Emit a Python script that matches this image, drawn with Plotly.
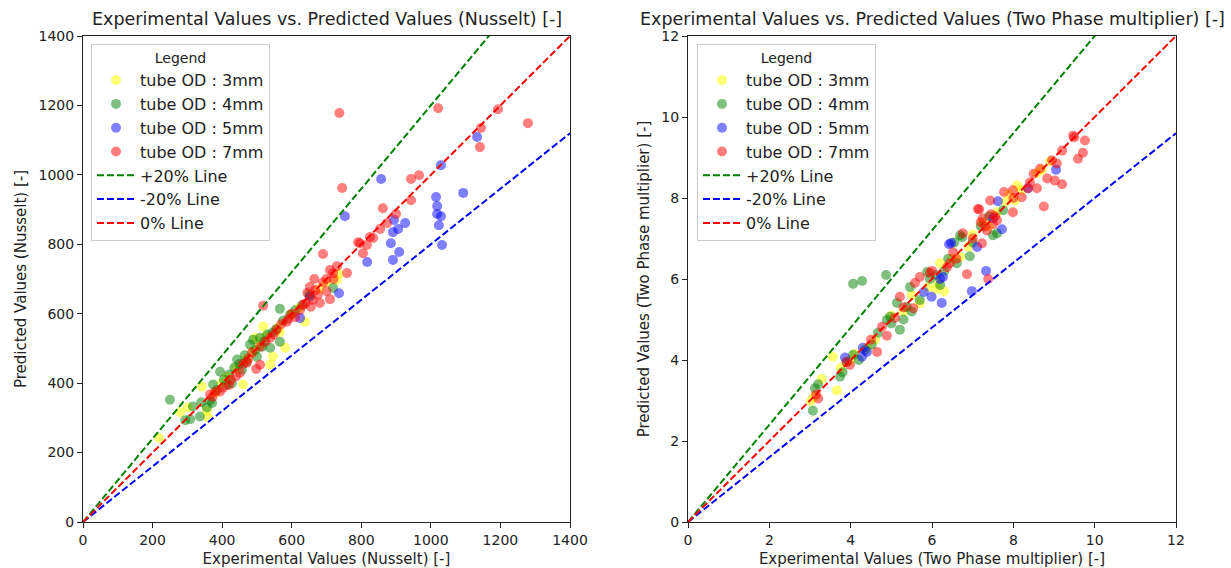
import plotly.graph_objects as go

# ---------------- Nusselt (left) ----------------
nu_3mm_x = [219, 279, 301, 342, 359, 356, 380, 398, 415, 440, 460, 470, 488, 495, 506, 518, 525, 538, 546, 560, 581, 566, 600, 620, 638, 655, 680, 700, 730, 735]
nu_3mm_y = [242, 316, 330, 390, 301, 320, 372, 400, 418, 442, 396, 470, 492, 531, 510, 563, 535, 453, 477, 560, 502, 547, 598, 615, 577, 650, 672, 690, 697, 715]

nu_4mm_x = [250, 294, 308, 316, 336, 340, 356, 365, 371, 374, 385, 394, 405, 412, 420, 428, 435, 443, 450, 457, 465, 470, 480, 489, 495, 500, 509, 515, 520, 530, 538, 545, 555, 566, 566, 575, 595, 610, 630, 650, 719]
nu_4mm_y = [352, 293, 296, 333, 304, 345, 330, 350, 343, 396, 380, 433, 410, 395, 425, 400, 445, 468, 455, 439, 480, 462, 511, 525, 495, 476, 531, 505, 520, 540, 502, 545, 555, 519, 614, 580, 597, 610, 625, 655, 674]

nu_5mm_x = [624, 652, 736, 753, 817, 857, 885, 891, 891, 894, 906, 909, 926, 1015, 1018, 1018, 1029, 1023, 1029, 1032, 1093, 1133]
nu_5mm_y = [588, 649, 659, 881, 749, 988, 803, 755, 835, 870, 844, 778, 861, 936, 910, 887, 881, 855, 1028, 798, 948, 1109]

nu_7mm_x = [737, 1021, 1193, 1279, 1144, 1141, 745, 943, 966, 943, 862, 900, 874, 854, 825, 834, 791, 816, 796, 805, 690, 759, 730, 710, 719, 710,
            633, 645, 652, 660, 668, 675, 681, 690, 700, 665, 624, 600, 586, 570, 557, 548, 538, 525, 518, 509, 509, 498, 486, 475, 471, 460, 451,
            440, 425, 403, 394, 380, 365, 372, 420, 590, 610, 640, 655, 700, 720]
nu_7mm_y = [1178, 1192, 1189, 1149, 1135, 1080, 962, 988, 999, 927, 904, 887, 861, 844, 821, 818, 806, 798, 803, 774, 772, 717, 737, 726, 717, 642,
            626, 660, 677, 640, 668, 655, 631, 690, 665, 700, 611, 600, 577, 570, 554, 540, 531, 520, 623, 505, 453, 441, 488, 470, 459, 455, 430,
            420, 410, 387, 376, 375, 367, 360, 395, 585, 590, 630, 620, 700, 700]

# ---------------- Two Phase multiplier (right) ----------------
tp_3mm_x = [3.02, 3.10, 3.29, 3.56, 3.66, 3.75, 4.00, 4.10, 4.40, 4.60, 5.00, 5.30, 5.50, 5.70, 5.90, 6.10, 6.15, 6.20, 6.30, 6.50, 6.70, 6.90, 7.00, 7.23, 7.40, 7.60, 7.80, 7.90, 8.04, 8.09, 8.20, 8.58, 8.70, 8.90]
tp_3mm_y = [2.98, 3.10, 3.54, 4.08, 3.25, 3.80, 4.00, 4.15, 4.30, 4.50, 5.10, 5.20, 5.60, 5.40, 5.80, 5.75, 5.90, 6.39, 5.70, 6.50, 6.55, 6.80, 7.10, 7.40, 7.30, 7.65, 7.90, 8.10, 7.94, 8.31, 8.20, 8.61, 8.70, 8.90]

tp_4mm_x = [3.07, 3.12, 3.20, 3.74, 3.80, 4.06, 4.28, 4.87, 4.06, 4.20, 4.52, 4.67, 4.89, 4.97, 5.14, 5.21, 5.30, 5.38, 5.46, 5.50, 5.70, 5.88, 5.95, 6.10, 6.20, 6.30, 6.40, 6.61, 6.74, 6.93, 7.00, 7.20, 7.50, 7.75, 7.40, 6.55, 5.00, 4.35, 3.90, 6.69, 7.60]
tp_4mm_y = [2.75, 3.30, 3.40, 3.59, 3.70, 5.88, 5.95, 6.10, 4.13, 4.00, 4.38, 4.67, 4.99, 5.07, 5.41, 4.75, 5.00, 5.31, 5.80, 5.20, 5.48, 6.17, 6.00, 6.10, 5.85, 6.20, 6.50, 6.39, 7.03, 6.56, 6.90, 7.30, 7.08, 7.70, 7.55, 6.90, 4.90, 4.25, 3.95, 7.08, 7.13]

tp_5mm_x = [3.86, 4.28, 4.30, 4.40, 5.80, 5.99, 6.24, 6.27, 6.42, 6.47, 6.98, 7.11, 7.33, 7.62, 7.72, 9.05, 8.36, 6.20, 7.50]
tp_5mm_y = [4.06, 4.08, 4.30, 4.20, 5.68, 5.56, 5.41, 6.05, 6.86, 6.89, 5.70, 6.79, 6.20, 7.92, 7.23, 8.70, 8.24, 6.00, 7.50]

tp_7mm_x = [3.15, 3.20, 3.98, 4.65, 4.77, 4.89, 5.09, 5.21, 5.54, 5.58, 5.70, 5.95, 6.37, 6.44, 6.52, 6.76, 6.86, 7.16, 7.20, 7.23, 7.25, 7.30, 7.35, 7.38,
            7.43, 7.45, 7.50, 7.55, 7.60, 7.77, 7.99, 7.99, 8.21, 8.36, 8.41, 8.58, 8.66, 8.75, 8.83, 8.95, 9.02, 9.07, 9.20, 9.20, 9.47, 9.59, 9.71,
            9.76, 9.50, 7.13, 8.50, 8.00, 7.00, 6.60, 6.00, 5.30, 4.50, 3.90]
tp_7mm_y = [3.15, 3.05, 3.88, 4.20, 4.82, 4.60, 5.04, 5.56, 5.28, 5.90, 6.05, 6.15, 6.29, 6.39, 6.66, 7.13, 6.12, 7.72, 7.40, 6.88, 7.50, 7.30, 7.20, 6.00,
            7.94, 7.60, 7.35, 7.55, 7.45, 8.15, 8.19, 7.65, 8.02, 8.24, 8.38, 8.24, 8.73, 7.79, 8.48, 8.93, 8.43, 8.85, 9.17, 8.34, 9.54, 8.97, 9.12,
            9.42, 9.50, 7.73, 8.60, 8.00, 7.00, 6.50, 6.20, 5.30, 4.50, 3.95]

groups = ["tube OD : 3mm", "tube OD : 4mm", "tube OD : 5mm", "tube OD : 7mm"]
colors = ["rgba(255,255,0,0.55)", "rgba(0,128,0,0.5)", "rgba(0,0,255,0.5)", "rgba(255,0,0,0.5)"]

line_names = ["+20% Line", "-20% Line", "0% Line"]
line_factors = [1.2, 0.8, 1.0]
line_colors = ["green", "blue", "red"]

nu_max = 1400
tp_max = 12

FONT = "DejaVu Sans"
W, H = 1231, 568
fig = go.Figure()

panels = [
    ("x", "y", "legend", [(nu_3mm_x, nu_3mm_y), (nu_4mm_x, nu_4mm_y), (nu_5mm_x, nu_5mm_y), (nu_7mm_x, nu_7mm_y)], nu_max),
    ("x2", "y2", "legend2", [(tp_3mm_x, tp_3mm_y), (tp_4mm_x, tp_4mm_y), (tp_5mm_x, tp_5mm_y), (tp_7mm_x, tp_7mm_y)], tp_max),
]

for xa, ya, lg, data, vmax in panels:
    for (xs, ys), name, col in zip(data, groups, colors):
        fig.add_trace(go.Scatter(
            x=xs, y=ys, mode="markers", name=name, xaxis=xa, yaxis=ya, legend=lg,
            legendgroup=lg + name,
            marker=dict(size=10, color=col, line=dict(width=0)),
        ))
    for name, f, col in zip(line_names, line_factors, line_colors):
        fig.add_trace(go.Scatter(
            x=[0, vmax], y=[0, f * vmax], mode="lines", name=name, xaxis=xa, yaxis=ya, legend=lg,
            legendgroup=lg + name,
            line=dict(color=col, width=2, dash="7px,3px"),
        ))

axis_common = dict(
    showgrid=False, zeroline=False, showline=True, mirror=True, linecolor="#222", linewidth=1,
    ticks="outside", ticklen=5, tickcolor="#222", tickfont=dict(family=FONT, size=14, color="#222"),
    title_font=dict(family=FONT, size=15, color="#222"), automargin=False,
)

legend_common = dict(
    title=dict(text="Legend", side="top center", font=dict(family=FONT, size=14, color="#222")),
    font=dict(family=FONT, size=16, color="#222"),
    bgcolor="rgba(255,255,255,0.8)", bordercolor="#cccccc", borderwidth=1,
    xanchor="left", yanchor="top", tracegroupgap=0, itemwidth=38,
)

fig.update_layout(
    width=W, height=H,
    margin=dict(l=0, r=0, t=0, b=0, autoexpand=False),
    paper_bgcolor="white", plot_bgcolor="white",
    showlegend=True,
    xaxis=dict(domain=[83 / W, 570 / W], range=[0, nu_max], dtick=200, anchor="y",
               title=dict(text="Experimental Values (Nusselt) [-]", standoff=6), **axis_common),
    yaxis=dict(domain=[46 / H, 532 / H], range=[0, nu_max], dtick=200, anchor="x",
               title=dict(text="Predicted Values (Nusselt) [-]", standoff=8), **axis_common),
    xaxis2=dict(domain=[688 / W, 1176 / W], range=[0, tp_max], dtick=2, anchor="y2",
                title=dict(text="Experimental Values (Two Phase multiplier) [-]", standoff=6), **axis_common),
    yaxis2=dict(domain=[46 / H, 532 / H], range=[0, tp_max], dtick=2, anchor="x2",
                title=dict(text="Predicted Values (Two Phase multiplier) [-]", standoff=8), **axis_common),
    legend=dict(x=91 / W, y=1 - 44 / H, **legend_common),
    legend2=dict(x=697 / W, y=1 - 44 / H, **legend_common),
    annotations=[
        dict(text="Experimental Values vs. Predicted Values (Nusselt) [-]", x=(83 + 570) / 2 / W, y=1 - 19 / H,
             xref="paper", yref="paper", showarrow=False, xanchor="center", yanchor="middle",
             font=dict(family=FONT, size=17.5, color="#222")),
        dict(text="Experimental Values vs. Predicted Values (Two Phase multiplier) [-]", x=(688 + 1176) / 2 / W, y=1 - 19 / H,
             xref="paper", yref="paper", showarrow=False, xanchor="center", yanchor="middle",
             font=dict(family=FONT, size=17.5, color="#222")),
    ],
)

fig.write_html("out.html")
